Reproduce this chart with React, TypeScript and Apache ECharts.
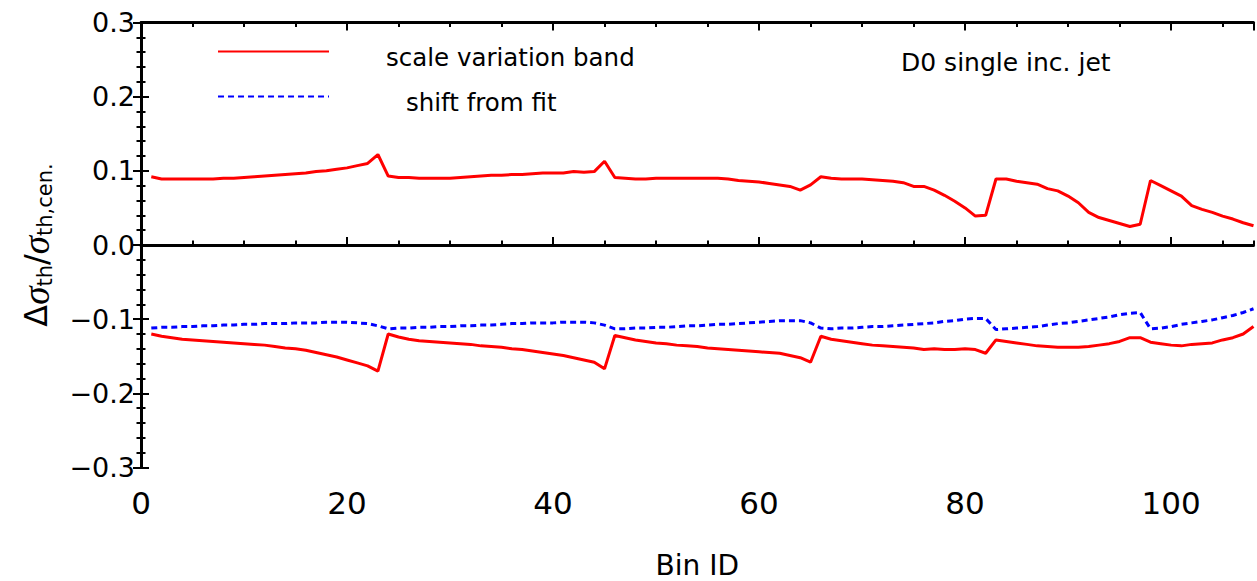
import React, { useEffect, useRef } from "react";
import * as echarts from "echarts";

const upperBand: number[] = [
  0.092, 0.089, 0.089, 0.089, 0.089, 0.089, 0.089, 0.090, 0.090, 0.091,
  0.092, 0.093, 0.094, 0.095, 0.096, 0.097, 0.099, 0.100, 0.102, 0.104,
  0.107, 0.110, 0.122, 0.093, 0.091, 0.091, 0.090, 0.090, 0.090, 0.090,
  0.091, 0.092, 0.093, 0.094, 0.094, 0.095, 0.095, 0.096, 0.097, 0.097,
  0.097, 0.099, 0.098, 0.099, 0.113, 0.091, 0.090, 0.089, 0.089, 0.090,
  0.090, 0.090, 0.090, 0.090, 0.090, 0.090, 0.089, 0.087, 0.086, 0.085,
  0.083, 0.081, 0.079, 0.074, 0.081, 0.092, 0.090, 0.089, 0.089, 0.089,
  0.088, 0.087, 0.086, 0.084, 0.079, 0.079, 0.074, 0.067, 0.059, 0.050,
  0.039, 0.040, 0.089, 0.089, 0.086, 0.084, 0.082, 0.076, 0.073, 0.066,
  0.057, 0.044, 0.037, 0.033, 0.029, 0.025, 0.028, 0.087, 0.080, 0.073,
  0.066, 0.053, 0.048, 0.044, 0.039, 0.035, 0.030, 0.026,
];

const lowerBand: number[] = [
  -0.120, -0.123, -0.125, -0.127, -0.128, -0.129, -0.130, -0.131, -0.132, -0.133,
  -0.134, -0.135, -0.137, -0.139, -0.140, -0.142, -0.145, -0.148, -0.151, -0.155,
  -0.159, -0.163, -0.170, -0.120, -0.124, -0.127, -0.129, -0.130, -0.131, -0.132,
  -0.133, -0.134, -0.136, -0.137, -0.138, -0.140, -0.141, -0.143, -0.145, -0.147,
  -0.149, -0.152, -0.155, -0.158, -0.167, -0.122, -0.125, -0.128, -0.130, -0.132,
  -0.133, -0.135, -0.136, -0.137, -0.139, -0.140, -0.141, -0.142, -0.143, -0.144,
  -0.145, -0.146, -0.149, -0.152, -0.158, -0.123, -0.127, -0.129, -0.131, -0.133,
  -0.135, -0.136, -0.137, -0.138, -0.139, -0.141, -0.140, -0.141, -0.141, -0.140,
  -0.141, -0.146, -0.128, -0.130, -0.132, -0.134, -0.136, -0.137, -0.138, -0.138,
  -0.138, -0.137, -0.135, -0.133, -0.130, -0.125, -0.125, -0.131, -0.133, -0.135,
  -0.136, -0.134, -0.133, -0.132, -0.128, -0.125, -0.120, -0.110,
];

const fitShift: number[] = [
  -0.112, -0.111, -0.111, -0.110, -0.110, -0.109, -0.109, -0.108, -0.108, -0.107,
  -0.107, -0.106, -0.106, -0.106, -0.105, -0.105, -0.105, -0.104, -0.104, -0.104,
  -0.105, -0.106, -0.109, -0.113, -0.112, -0.112, -0.111, -0.111, -0.110, -0.110,
  -0.109, -0.109, -0.108, -0.108, -0.107, -0.106, -0.106, -0.105, -0.105, -0.105,
  -0.104, -0.104, -0.104, -0.105, -0.108, -0.113, -0.113, -0.112, -0.112, -0.111,
  -0.111, -0.110, -0.109, -0.109, -0.108, -0.107, -0.107, -0.106, -0.105, -0.104,
  -0.103, -0.102, -0.102, -0.102, -0.105, -0.112, -0.113, -0.112, -0.112, -0.111,
  -0.110, -0.110, -0.109, -0.108, -0.107, -0.106, -0.105, -0.103, -0.102, -0.100,
  -0.099, -0.099, -0.114, -0.113, -0.112, -0.111, -0.110, -0.108, -0.106, -0.105,
  -0.103, -0.101, -0.099, -0.097, -0.094, -0.092, -0.091, -0.113, -0.112, -0.110,
  -0.107, -0.105, -0.103, -0.101, -0.098, -0.095, -0.091, -0.086,
];

const seriesNames = ["scale variation band", "shift from fit"];
const xRange = { min: 0, max: 108 };
const yRange = { min: -0.3, max: 0.3 };

const toPairs = (vals: number[]) => vals.map((v, i) => [i + 1, v]);

const fmtY = (v: number) => {
  const s = Math.abs(v).toFixed(1);
  if (Math.abs(v) < 1e-9) return "0.0";
  return v < 0 ? "\u2212" + s : s;
};

const FONT = "DejaVu Sans";

export default function App() {
  const ref = useRef<HTMLDivElement>(null);
  useEffect(() => {
    if (!ref.current) return;
    const chart = echarts.init(ref.current, null, { renderer: "svg" });
    const frameLine = { show: true, lineStyle: { color: "#000", width: 3 } };
    const xBase = {
      type: "value" as const,
      min: xRange.min,
      max: xRange.max,
      splitLine: { show: false },
    };
    const yBase = {
      type: "value" as const,
      min: yRange.min,
      max: yRange.max,
      interval: 0.1,
      splitLine: { show: false },
      minorTick: { show: true, splitNumber: 5, length: 4.5, lineStyle: { color: "#000", width: 2 } },
      axisTick: { show: true, inside: true, length: 8, lineStyle: { color: "#000", width: 2 } },
    };
    chart.setOption({
      animation: false,
      backgroundColor: "#fff",
      grid: {
        left: 141,
        right: 3.5,
        top: 22.5,
        bottom: 113.5,
        containLabel: false,
        outerBoundsMode: "none",
      },
      title: {
        text: "D0 single inc. jet",
        left: 901,
        top: 50,
        padding: 0,
        textStyle: { fontFamily: FONT, fontSize: 25, fontWeight: "normal", color: "#000" },
      },
      legend: {
        data: seriesNames,
        orient: "vertical",
        left: 217,
        top: 45,
        itemWidth: 111,
        itemHeight: 14,
        itemGap: 20,
        padding: 0,
        selectedMode: false,
        itemStyle: { opacity: 0 },
        textStyle: {
          fontFamily: FONT,
          fontSize: 24.5,
          color: "#000",
          rich: {
            p1: { fontFamily: FONT, fontSize: 24.5, color: "#000", padding: [12, 0, 0, 52] },
            p2: { fontFamily: FONT, fontSize: 24.5, color: "#000", padding: [12, 0, 0, 72] },
          },
        },
        formatter: (name: string) =>
          name === seriesNames[0] ? "{p1|" + name + "}" : "{p2|" + name + "}",
      },
      xAxis: [
        {
          ...xBase,
          position: "bottom",
          interval: 20,
          name: "Bin ID",
          nameLocation: "middle",
          nameGap: 84,
          nameTextStyle: { fontFamily: FONT, fontSize: 28, color: "#000" },
          axisLine: frameLine,
          axisTick: { show: true, inside: true, length: 8, lineStyle: { color: "#000", width: 2 } },
          axisLabel: {
            show: true,
            margin: 20,
            fontFamily: FONT,
            fontSize: 31,
            color: "#000",
            showMaxLabel: false,
            formatter: (v: number) => (v % 20 === 0 ? String(v) : ""),
          },
        },
        {
          ...xBase,
          position: "bottom",
          interval: 5,
          axisLine: { show: false },
          axisTick: { show: true, inside: true, length: 4.5, lineStyle: { color: "#000", width: 2 } },
          axisLabel: { show: false },
        },
        {
          ...xBase,
          position: "top",
          interval: 20,
          axisLine: frameLine,
          axisTick: { show: true, inside: true, length: 8, lineStyle: { color: "#000", width: 2 } },
          axisLabel: { show: false },
        },
        {
          ...xBase,
          position: "top",
          interval: 5,
          axisLine: { show: false },
          axisTick: { show: true, inside: true, length: 4.5, lineStyle: { color: "#000", width: 2 } },
          axisLabel: { show: false },
        },
      ],
      yAxis: [
        {
          ...yBase,
          position: "left",
          axisLine: frameLine,
          axisLabel: {
            show: true,
            margin: 6,
            fontFamily: FONT,
            fontSize: 27,
            color: "#000",
            formatter: fmtY,
          },
          name: "{d|\u0394}{g|\u03C3}{s|th}{d|/}{g|\u03C3}{s|th,cen.}",
          nameLocation: "middle",
          nameRotate: 90,
          nameGap: 86,
          nameTextStyle: {
            color: "#000",
            rich: {
              d: { fontFamily: FONT, fontSize: 32, color: "#000" },
              g: { fontFamily: "Liberation Serif", fontStyle: "italic", fontSize: 37, color: "#000" },
              s: { fontFamily: FONT, fontSize: 21, color: "#000", padding: [17, 0, 0, 0] },
            },
          },
        },
        {
          ...yBase,
          position: "right",
          axisLine: frameLine,
          axisLabel: { show: false },
        },
      ],
      series: [
        {
          name: seriesNames[0],
          type: "line",
          xAxisIndex: 0,
          yAxisIndex: 0,
          data: toPairs(upperBand),
          symbol: "none",
          lineStyle: { color: "#ff0000", width: 3 },
          itemStyle: { color: "#ff0000" },
          z: 3,
          markLine: {
            silent: true,
            symbol: "none",
            label: { show: false },
            lineStyle: { color: "#000", width: 1, type: "solid" },
            data: [{ yAxis: 0 }],
          },
        },
        {
          name: seriesNames[0],
          type: "line",
          xAxisIndex: 0,
          yAxisIndex: 0,
          data: toPairs(lowerBand),
          symbol: "none",
          lineStyle: { color: "#ff0000", width: 3 },
          itemStyle: { color: "#ff0000" },
          z: 3,
        },
        {
          name: seriesNames[1],
          type: "line",
          xAxisIndex: 0,
          yAxisIndex: 0,
          data: toPairs(fitShift),
          symbol: "none",
          lineStyle: { color: "#0000ff", width: 3, type: [6, 4] },
          itemStyle: { color: "#0000ff" },
          z: 4,
        },
      ],
    });
    return () => chart.dispose();
  }, []);
  return (
    <div
      ref={ref}
      style={{ position: "absolute", left: 0, top: 0, width: 1257, height: 581 }}
    />
  );
}
